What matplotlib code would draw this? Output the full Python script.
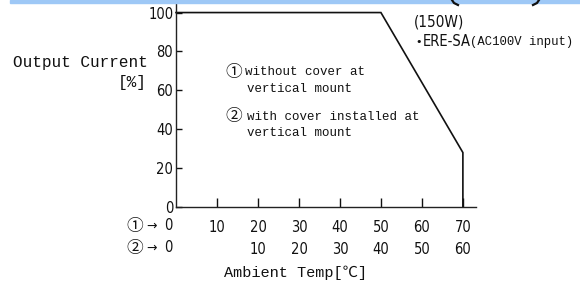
import matplotlib.pyplot as plt
from matplotlib.patches import Rectangle
from matplotlib.lines import Line2D

# derating curve (ambient temp for condition 1, output current %)
temp = [0, 50, 70, 70]
current = [100, 100, 28, 0]

x_ticks = [10, 20, 30, 40, 50, 60, 70]
row1_labels = ["10", "20", "30", "40", "50", "60", "70"]
row2_labels = ["", "10", "20", "30", "40", "50", "60"]
y_ticks = [0, 20, 40, 60, 80, 100]

W, H = 580, 285
mono = ['Liberation Mono', 'Noto Sans CJK JP', 'DejaVu Sans']
narrow = ['DejaVu Sans']
ink = '#111111'


def fx(px):
    return px / W


def fy(py):
    return 1 - py / H


fig = plt.figure(figsize=(W / 100, H / 100), dpi=100)
ax = fig.add_axes([fx(176), fy(207), fx(476) - fx(176), (207 - 4) / H])

ax.plot(temp, current, color=ink, lw=1.2, solid_joinstyle='miter', clip_on=False)

ax.set_xlim(0, 73.2)
ax.set_ylim(0, 104.4)
for s in ['top', 'right']:
    ax.spines[s].set_visible(False)
for s in ['left', 'bottom']:
    ax.spines[s].set_linewidth(1.0)
    ax.spines[s].set_color('#222222')

ax.set_xticks(x_ticks)
ax.set_xticklabels([f"{a}\n{b}" for a, b in zip(row1_labels, row2_labels)],
                   family=narrow, stretch='condensed', fontsize=10.5, linespacing=1.6)
ax.set_yticks(y_ticks)
ax.set_yticklabels([str(v) for v in y_ticks], family=narrow, stretch='condensed', fontsize=10.5)
ax.tick_params(axis='x', direction='in', length=6.5, width=1.0, pad=9, colors=ink)
ax.tick_params(axis='y', direction='in', length=4.5, width=1.0, pad=2, colors=ink)

# zero labels of the two temperature scales
for py, mark in [(226, "①"), (248, "②")]:
    fig.text(fx(168), fy(py), "0", family=narrow, stretch='condensed', fontsize=10.5,
             ha='center', va='center', color=ink)
    fig.text(fx(135), fy(py), mark, family=mono, fontsize=12,
             ha='center', va='center', color=ink)
    fig.text(fx(152), fy(py), "→", family=['DejaVu Sans'], fontsize=9,
             ha='center', va='center', color=ink)

fig.text(fx(295), fy(273), "Ambient Temp[℃]", family=mono, fontsize=11,
         ha='center', va='center', color=ink)
fig.text(fx(148), fy(63), "Output Current", family=mono, fontsize=11.5,
         ha='right', va='center', color=ink)
fig.text(fx(147), fy(83), "[%]", family=mono, fontsize=11.5,
         ha='right', va='center', color=ink)

# condition notes
fig.text(fx(234), fy(72), "①", family=mono, fontsize=12, ha='center', va='center', color=ink)
fig.text(fx(245), fy(72), "without cover at", family=mono, fontsize=9,
         ha='left', va='center', color=ink)
fig.text(fx(247), fy(89), "vertical mount", family=mono, fontsize=9,
         ha='left', va='center', color=ink)
fig.text(fx(234), fy(117), "②", family=mono, fontsize=12, ha='center', va='center', color=ink)
fig.text(fx(247), fy(117), "with cover installed at", family=mono, fontsize=9,
         ha='left', va='center', color=ink)
fig.text(fx(247), fy(133), "vertical mount", family=mono, fontsize=9,
         ha='left', va='center', color=ink)

fig.text(fx(414), fy(22), "(150W)", family=narrow, stretch='condensed', fontsize=11,
         ha='left', va='center', color=ink)
fig.text(fx(419), fy(42), "•", family=['DejaVu Sans'], fontsize=8,
         ha='center', va='center', color=ink)
fig.text(fx(423), fy(42), "ERE-SA", family=narrow, stretch='condensed', fontsize=10.5,
         ha='left', va='center', color=ink)
fig.text(fx(470), fy(42), "(AC100V input)", family=mono, fontsize=8.8,
         ha='left', va='center', color=ink)

# cropped banner at the top
fig.patches.append(Rectangle((fx(10), fy(3)), 1, 3 / H, transform=fig.transFigure,
                             color='#9ec8f6', zorder=0))
fig.add_artist(Line2D([fx(452), fx(454), fx(458)], [fy(0), fy(3), fy(5)],
                      transform=fig.transFigure, color=ink, lw=1.6))
fig.add_artist(Line2D([fx(539), fx(537), fx(533)], [fy(0), fy(3), fy(5)],
                      transform=fig.transFigure, color=ink, lw=1.6))

fig.savefig("out.png", dpi=100)
